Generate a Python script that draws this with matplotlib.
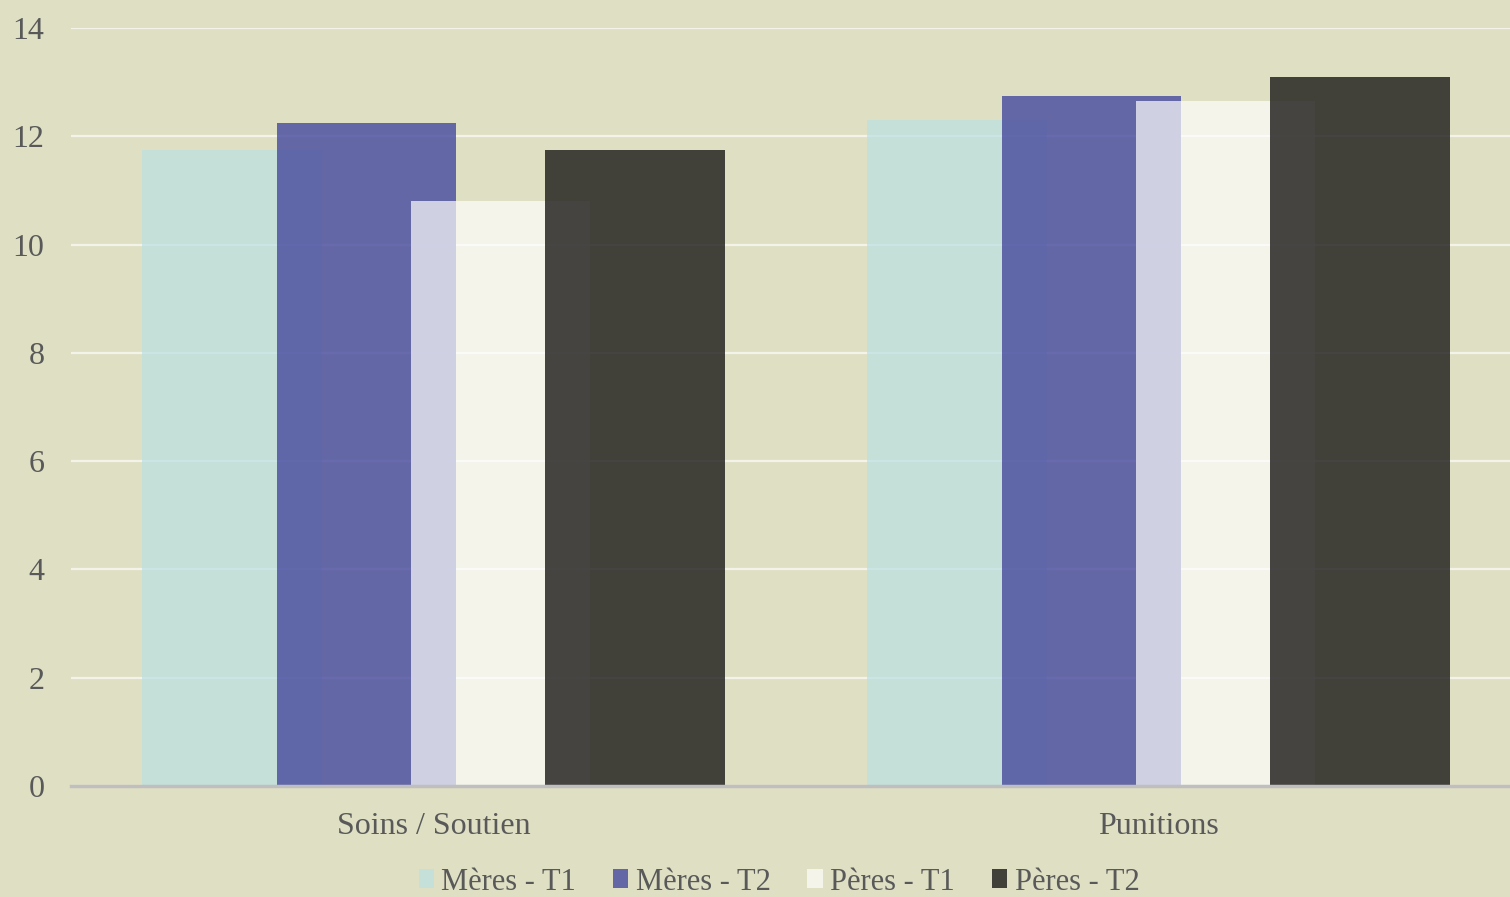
import numpy as np
import matplotlib.pyplot as plt

categories = ['Soins / Soutien', 'Punitions']
series = ['Mères - T1', 'Mères - T2', 'Pères - T1', 'Pères - T2']
values = [
    [11.75, 12.3],   # Mères - T1
    [12.25, 12.75],  # Mères - T2
    [10.8, 12.65],   # Pères - T1
    [11.75, 13.1],   # Pères - T2
]
colors = ['#bae0e3', '#4f52a1', '#fdfdfd', '#191816']
alphas = [0.7, 0.85, 0.7, 0.8]

bg = '#dfdfc4'
txt = '#595959'
plt.rcParams['font.family'] = ['Liberation Serif', 'DejaVu Serif']

fig = plt.figure(figsize=(15.1, 8.97), dpi=100, facecolor=bg)
ax = fig.add_axes([71/1510, 1-786/897, 1450/1510, (786-28)/897])
ax.set_facecolor(bg)

x = np.arange(len(categories))
width = 0.248
step = 0.185
for i, (name, vals) in enumerate(zip(series, values)):
    ax.bar(x + (i - 1.5)*step, vals, width, color=colors[i], alpha=alphas[i],
           label=name, zorder=2, linewidth=0)

ax.set_xlim(-0.5, 1.5)
ax.set_ylim(0, 14)
ax.set_yticks(np.arange(0, 15, 2))
ax.set_xticks(x)
ax.set_xticklabels(categories)
ax.yaxis.grid(True, color='#f3f3ea', linewidth=1.6, zorder=0)
ax.set_axisbelow(True)
for s in ['top', 'right', 'left']:
    ax.spines[s].set_visible(False)
ax.spines['bottom'].set_color('#bfbfbf')
ax.spines['bottom'].set_linewidth(2.5)
ax.spines['bottom'].set_zorder(3)
ax.tick_params(axis='both', length=0, labelsize=23, colors=txt)
ax.tick_params(axis='y', pad=19)
ax.tick_params(axis='x', pad=19)

fig.legend(loc='center', bbox_to_anchor=(779/1510, 1-882/897), ncol=4,
           frameon=False, fontsize=22, labelcolor=txt, handlelength=0.5,
           handleheight=0.6, handletextpad=0.25, columnspacing=1.2)

fig.savefig('out.png', dpi=100, facecolor=bg)
